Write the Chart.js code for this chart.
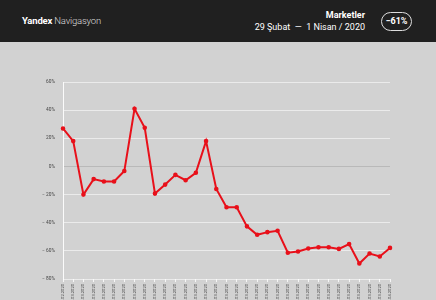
<!DOCTYPE html>
<html><head><meta charset="utf-8">
<script src="https://cdn.jsdelivr.net/npm/chart.js@4"></script>
<style>
html,body{margin:0;padding:0;width:436px;height:300px;overflow:hidden;background:#d2d2d2;font-family:Roboto,"Open Sans",sans-serif;}
#hdr{position:absolute;left:0;top:0;width:436px;height:42px;background:#202020;color:#fff;}
#brand{position:absolute;left:22px;top:15px;font-size:9.5px;letter-spacing:-0.2px;}
#brand b{font-weight:700;}
#brand span{font-weight:300;color:#ddd;}
#t1{position:absolute;right:71px;top:10px;font-size:9px;font-weight:700;}
#t2{position:absolute;right:71px;top:22px;font-size:9px;font-weight:400;}
#pill{position:absolute;left:381px;top:12px;width:31px;height:19px;box-sizing:border-box;border:1px solid #ddd;border-radius:10px;font-size:9px;font-weight:700;text-align:center;line-height:17px;}
#wrap{position:absolute;left:0;top:42px;width:436px;height:258px;}
</style></head><body>
<div id="hdr">
<div id="brand"><b>Yandex</b> <span>Navigasyon</span></div>
<div id="t1">Marketler</div>
<div id="t2">29 Şubat&nbsp; — &nbsp;1 Nisan / 2020</div>
<div id="pill">−61%</div>
</div>
<div id="wrap"><canvas id="c" width="436" height="258"></canvas></div>
<script>
const dates = ["29.02.2020","01.03.2020","02.03.2020","03.03.2020","04.03.2020","05.03.2020","06.03.2020","07.03.2020","08.03.2020","09.03.2020","10.03.2020","11.03.2020","12.03.2020","13.03.2020","14.03.2020","15.03.2020","16.03.2020","17.03.2020","18.03.2020","19.03.2020","20.03.2020","21.03.2020","22.03.2020","23.03.2020","24.03.2020","25.03.2020","26.03.2020","27.03.2020","28.03.2020","29.03.2020","30.03.2020","31.03.2020","01.04.2020"];
const change = [27,18,-20,-9,-10.7,-10.7,-3.3,41,27.4,-19.3,-12.9,-6,-9.8,-4.5,18,-16,-29,-29,-42.6,-48.6,-46.7,-45.7,-61.3,-60.5,-58.3,-57.4,-57.4,-58.6,-55.2,-69,-61.9,-64,-57.9];
const yTicks = [60,40,20,0,-20,-40,-60,-80];

new Chart(document.getElementById('c'), {
  type: 'line',
  data: { labels: dates, datasets: [{
    data: change, borderColor: '#e8101a', backgroundColor: '#e8101a',
    borderWidth: 2, pointRadius: 1.3, pointHoverRadius: 1.3, tension: 0
  }]},
  options: {
    responsive: false, animation: false, devicePixelRatio: 1,
    layout: { padding: { top: 40, right: 46, bottom: 0, left: 0 } },
    plugins: { legend: { display: false }, tooltip: { enabled: false } },
    scales: {
      x: {
        offset: false,
        afterFit: s => { s.height = 21; },
        grid: { drawOnChartArea: false, drawTicks: true, tickLength: 3, color: 'rgba(255,255,255,0.8)' },
        border: { display: false },
        ticks: { autoSkip: false, minRotation: 90, maxRotation: 90, padding: 2,
          font: { size: 4.1, family: 'Roboto' }, color: '#4a4a4a' }
      },
      y: {
        min: -80, max: 60,
        afterFit: s => { s.width = 63; },
        afterBuildTicks: s => { s.ticks = yTicks.map(v => ({ value: v })); },
        grid: { drawTicks: false, lineWidth: 1,
          color: c => c.tick && c.tick.value === 0 ? '#b9b9b9' : 'rgba(255,255,255,0.55)' },
        border: { display: true, color: 'rgba(255,255,255,0.9)', width: 1 },
        ticks: { padding: 8, font: { size: 4.8, family: 'Roboto' }, color: '#444',
          callback: v => (v < 0 ? '− ' + Math.abs(v) : v) + '%' }
      }
    }
  }
});
</script>
</body></html>
